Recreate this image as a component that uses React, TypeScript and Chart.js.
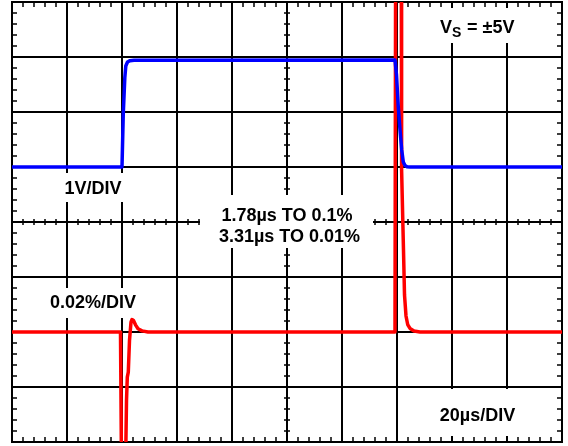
import React, { useEffect, useRef } from "react";
import { Chart, registerables } from "chart.js";

Chart.register(...registerables);

// Time axis in microseconds (20 µs per division, 10 divisions)
// Vertical values in screen divisions (8 divisions)
const blueTime = [0, 40.0, 40.47, 41.02, 41.38, 42.0, 42.91, 44.36, 139.27, 139.82, 140.47, 141.09, 141.71, 142.29, 142.91, 143.64, 144.73, 200];
const blueDiv = [5.0, 5.0, 5.98, 6.62, 6.836, 6.91, 6.933, 6.942, 6.945, 6.673, 6.09, 5.673, 5.309, 5.091, 5.027, 5.005, 5.0, 5.0];

const redTime = [0, 39.45, 39.82, 41.27, 41.64, 41.93, 42.29, 42.73, 43.27, 43.64, 44.18, 44.91, 45.82, 47.27, 49.45, 139.27, 139.49, 141.56, 141.64, 141.71, 142.36, 142.73, 143.27, 143.89, 144.73, 146.18, 148.36, 200];
const redDiv = [2.0, 2.0, -0.51, -0.51, 0.76, 1.18, 1.27, 1.85, 2.18, 2.227, 2.21, 2.13, 2.06, 2.02, 2.0, 2.0, 8.58, 8.58, 8.036, 4.945, 3.49, 2.673, 2.291, 2.136, 2.064, 2.018, 2.0, 2.0];

const xDivisions = [0, 1, 2, 3, 4, 5, 6, 7, 8, 9, 10];
const yDivisions = [0, 1, 2, 3, 4, 5, 6, 7, 8];
const usPerDiv = 20;

const labelBlue = "1V/DIV";
const labelRed = "0.02%/DIV";
const labelSettle1 = "1.78µs TO 0.1%";
const labelSettle2 = "3.31µs TO 0.01%";
const labelTime = "20µs/DIV";
const labelSupplyMain = "V";
const labelSupplySub = "S";
const labelSupplyRest = "= ±5V";

const FONT = '"Liberation Sans", Arial, Helvetica, sans-serif';

const scopePlugin = {
  id: "scopeGrid",
  beforeDatasetsDraw(chart: any) {
    const ctx = chart.ctx as CanvasRenderingContext2D;
    const { left, right, top, bottom } = chart.chartArea;
    const xs = chart.scales.x;
    const ys = chart.scales.y;
    ctx.save();
    ctx.strokeStyle = "#000";
    ctx.lineCap = "butt";
    // major grid
    ctx.lineWidth = 2;
    xDivisions.forEach((k) => {
      const px = Math.round(xs.getPixelForValue(k * usPerDiv));
      ctx.beginPath();
      ctx.moveTo(px, top - 1);
      ctx.lineTo(px, bottom + 1);
      ctx.stroke();
    });
    yDivisions.forEach((k) => {
      const py = Math.round(ys.getPixelForValue(k));
      ctx.beginPath();
      ctx.moveTo(left - 1, py);
      ctx.lineTo(right + 1, py);
      ctx.stroke();
    });
    // minor ticks
    ctx.lineWidth = 1.5;
    const cx = Math.round(xs.getPixelForValue(5 * usPerDiv));
    const cy = Math.round(ys.getPixelForValue(4));
    for (let i = 1; i < 50; i++) {
      if (i % 5 === 0) continue;
      const px = Math.round(xs.getPixelForValue((i * usPerDiv) / 5));
      ctx.beginPath();
      ctx.moveTo(px, top); ctx.lineTo(px, top + 5);
      ctx.moveTo(px, bottom); ctx.lineTo(px, bottom - 5);
      ctx.moveTo(px, cy - 3); ctx.lineTo(px, cy + 3);
      ctx.stroke();
    }
    for (let j = 1; j < 40; j++) {
      if (j % 5 === 0) continue;
      const py = Math.round(ys.getPixelForValue(j / 5));
      ctx.beginPath();
      ctx.moveTo(left, py); ctx.lineTo(left + 5, py);
      ctx.moveTo(right, py); ctx.lineTo(right - 5, py);
      ctx.moveTo(cx - 3, py); ctx.lineTo(cx + 3, py);
      ctx.stroke();
    }
    // white label boxes
    ctx.fillStyle = "#fff";
    ctx.fillRect(58, 173, 72, 29);
    ctx.fillRect(44, 288, 96, 30);
    ctx.fillRect(200, 195, 173, 53);
    ctx.fillRect(432, 8, 88, 35);
    ctx.fillRect(432, 389, 90, 47);
    // texts
    ctx.fillStyle = "#000";
    ctx.textBaseline = "alphabetic";
    ctx.textAlign = "center";
    ctx.font = `bold 18px ${FONT}`;
    ctx.fillText(labelBlue, 93, 193.5);
    ctx.fillText(labelRed, 93, 307.5);
    ctx.fillText(labelTime, 477.5, 420.5);
    ctx.fillText(labelSettle1, 287, 221);
    ctx.fillText(labelSettle2, 289.5, 242);
    ctx.textAlign = "left";
    ctx.fillText(labelSupplyMain, 440, 33);
    const wV = ctx.measureText(labelSupplyMain).width;
    ctx.font = `bold 14px ${FONT}`;
    ctx.fillText(labelSupplySub, 440 + wV, 36.5);
    ctx.font = `bold 18px ${FONT}`;
    ctx.fillText(labelSupplyRest, 467, 33);
    // frame
    ctx.lineWidth = 2;
    ctx.strokeRect(left, top, right - left, bottom - top);
    ctx.restore();
  },
};

export default function App() {
  const canvasRef = useRef<HTMLCanvasElement | null>(null);
  useEffect(() => {
    document.body.style.margin = "0";
    const canvas = canvasRef.current;
    if (!canvas) return;
    const chart = new Chart(canvas, {
      type: "line",
      data: {
        datasets: [
          {
            label: "Output (1V/DIV)",
            data: blueTime.map((t, i) => ({ x: t, y: blueDiv[i] })),
            borderColor: "#0000ff",
            borderWidth: 3.5,
            pointRadius: 0,
            tension: 0,
            fill: false,
            borderJoinStyle: "round",
            borderCapStyle: "round",
            clip: 0,
          },
          {
            label: "Settling error (0.02%/DIV)",
            data: redTime.map((t, i) => ({ x: t, y: redDiv[i] })),
            borderColor: "#ff0000",
            borderWidth: 3.5,
            pointRadius: 0,
            tension: 0,
            fill: false,
            borderJoinStyle: "round",
            borderCapStyle: "round",
            clip: 0,
          },
        ],
      },
      options: {
        animation: false,
        responsive: false,
        devicePixelRatio: 1,
        events: [],
        layout: { padding: { left: 12, top: 2, right: 6, bottom: 4 } },
        plugins: { legend: { display: false }, tooltip: { enabled: false } },
        scales: {
          x: { type: "linear", min: 0, max: 200, display: false },
          y: { type: "linear", min: 0, max: 8, display: false },
        },
      },
      plugins: [scopePlugin],
    } as any);
    return () => chart.destroy();
  }, []);
  return (
    <div style={{ width: 568, height: 446, background: "#fff" }}>
      <canvas ref={canvasRef} width={568} height={446} style={{ display: "block" }} />
    </div>
  );
}
